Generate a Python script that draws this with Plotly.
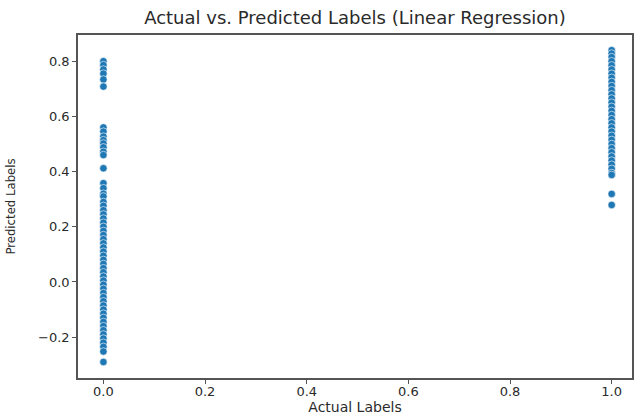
import plotly.graph_objects as go

# Predicted values for samples whose actual label is 0
pred_actual0 = [0.80, 0.786, 0.77, 0.755, 0.734, 0.708,
                0.56, 0.545, 0.527, 0.514, 0.502, 0.488, 0.472, 0.46,
                0.412,
                0.358, 0.34, 0.32, 0.31, 0.29, 0.276,
                0.26, 0.245, 0.23, 0.215, 0.2, 0.185, 0.17, 0.155, 0.14, 0.125,
                0.11, 0.095, 0.08, 0.065, 0.05, 0.035, 0.02, 0.005, -0.01, -0.025,
                -0.04, -0.055, -0.07, -0.085, -0.1, -0.115, -0.13, -0.145, -0.16,
                -0.175, -0.19, -0.205, -0.22, -0.235, -0.252, -0.29]
# Predicted values for samples whose actual label is 1
pred_actual1 = [0.84, 0.828, 0.815, 0.80, 0.785, 0.77, 0.755, 0.74, 0.725, 0.71,
                0.695, 0.68, 0.665, 0.65, 0.635, 0.62, 0.605, 0.59, 0.575, 0.56,
                0.545, 0.53, 0.515, 0.5, 0.485, 0.47, 0.455, 0.44, 0.425, 0.41,
                0.395, 0.388, 0.319, 0.279]

actual = [0.0] * len(pred_actual0) + [1.0] * len(pred_actual1)
predicted = pred_actual0 + pred_actual1

x_ticks = [0.0, 0.2, 0.4, 0.6, 0.8, 1.0]
x_labels = ["0.0", "0.2", "0.4", "0.6", "0.8", "1.0"]
y_ticks = [-0.2, 0.0, 0.2, 0.4, 0.6, 0.8]
y_labels = ["\u22120.2", "0.0", "0.2", "0.4", "0.6", "0.8"]

font_family = "DejaVu Sans"
text_color = "#2a2a2a"
line_color = "#555555"

fig = go.Figure()
fig.add_trace(go.Scatter(
    x=actual, y=predicted, mode="markers",
    marker=dict(color="#1f77b4", size=7.5, line=dict(color="white", width=0.6)),
    showlegend=False,
))

axis_common = dict(
    showgrid=False, zeroline=False, showline=True, mirror=True,
    linecolor=line_color, linewidth=1.5, ticks="outside", ticklen=4, tickwidth=1,
    tickcolor=line_color, automargin=False,
    tickfont=dict(family=font_family, size=13, color=text_color),
)

fig.update_layout(
    width=637, height=416,
    margin=dict(l=78, r=5, t=35, b=38, autoexpand=False),
    plot_bgcolor="white", paper_bgcolor="white",
    title=dict(text="Actual vs. Predicted Labels (Linear Regression)",
               x=0.5, xref="paper", xanchor="center", y=0.957, yanchor="middle",
               font=dict(family=font_family, size=18, color=text_color)),
    xaxis=dict(range=[-0.05, 1.04], tickvals=x_ticks, ticktext=x_labels,
               ticklabelstandoff=-3,
               title=dict(text="Actual Labels", standoff=0,
                          font=dict(family=font_family, size=14, color=text_color)),
               **axis_common),
    yaxis=dict(range=[-0.348, 0.895], tickvals=y_ticks, ticktext=y_labels,
               title=dict(text="Predicted Labels", standoff=20,
                          font=dict(family="DejaVu Sans Condensed, DejaVu Sans",
                                    size=13, color=text_color)),
               **axis_common),
)

fig.write_html("out.html", config={"displayModeBar": False},
               post_script="document.body.style.margin='0';document.body.style.overflow='hidden';")
